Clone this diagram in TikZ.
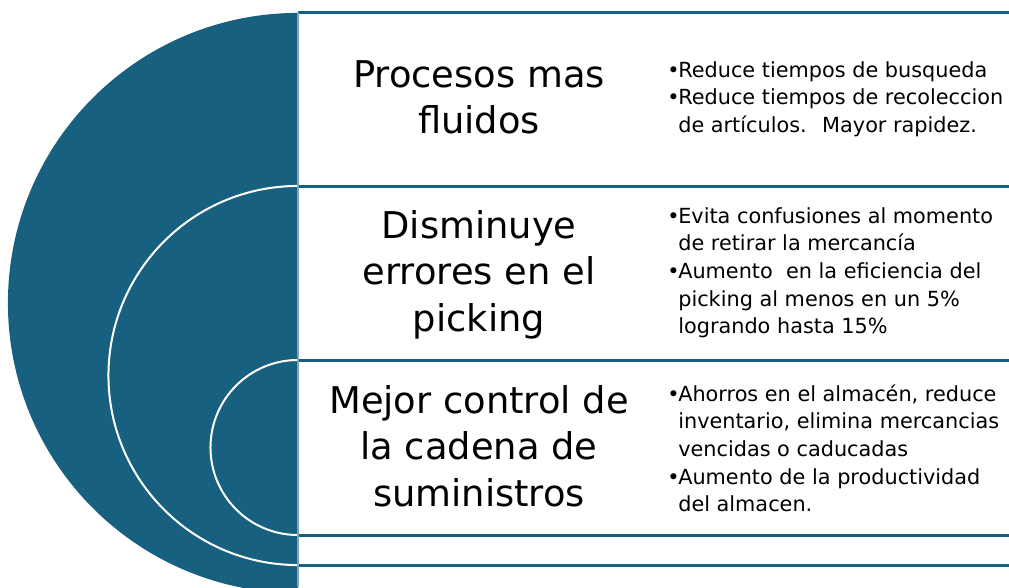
\documentclass[tikz,border=0pt]{standalone}
\usepackage{fontspec}
\setmainfont{DejaVu Sans}
\definecolor{petrol}{RGB}{23,96,127}
\definecolor{petrolline}{RGB}{126,164,184}
\newcommand{\bulletmark}{\makebox[0.275cm][l]{•}}
\begin{document}
\begin{tikzpicture}[x=0.025cm, y=-0.025cm,
  head/.style={anchor=base, inner sep=0pt, font=\fontsize{26.2}{33.1}\selectfont},
  pts/.style={anchor=base west, inner sep=0pt, font=\fontsize{14.8}{19.7}\selectfont},
  rowline/.style={petrol, line width=0.075cm},
  ring/.style={white, line width=0.05cm}]
\useasboundingbox (0,0) rectangle (1009,587);
% half disc with the rings
\begin{scope}
  \clip (0,0) rectangle (298,587);
  \fill[petrol] (298,303) circle [radius=7.25cm];
  \draw[ring] (298,375.5) circle [radius=4.7375cm];
  \draw[ring] (298,447.5) circle [radius=2.1875cm];
\end{scope}
% rows
\foreach \y in {12,186,360,535,565}
  \draw[rowline] (298,\y) -- (1009,\y);
\draw[petrolline, line width=0.035cm] (298,12) -- (298,587);
% headings
\node[head] (fluid) at (479,87) {\begin{tabular}[t]{@{}c@{}}Procesos mas\\fluidos\end{tabular}};
\node[head] (errors) at (479,238) {\begin{tabular}[t]{@{}c@{}}Disminuye\\errores en el\\picking\end{tabular}};
\node[head] (control) at (479,413) {\begin{tabular}[t]{@{}c@{}}Mejor control de\\la cadena de\\suministros\end{tabular}};
% points
\node[pts] (fluidpts) at (667,77) {\begin{tabular}[t]{@{}l@{}l@{}}
  \bulletmark & Reduce tiempos de busqueda\\
  \bulletmark & Reduce tiempos de recoleccion\\
  & de artículos.~ Mayor rapidez.\end{tabular}};
\node[pts] (errorspts) at (667,223) {\begin{tabular}[t]{@{}l@{}l@{}}
  \bulletmark & Evita confusiones al momento\\
  & de retirar la mercancía\\
  \bulletmark & Aumento~ en la eficiencia del\\
  & picking al menos en un 5\%\\
  & logrando hasta 15\%\end{tabular}};
\node[pts] (controlpts) at (667,401) {\begin{tabular}[t]{@{}l@{}l@{}}
  \bulletmark & Ahorros en el almacén, reduce\\
  & inventario, elimina mercancias\\
  & vencidas o caducadas\\
  \bulletmark & Aumento de la productividad\\
  & del almacen.\end{tabular}};
\end{tikzpicture}
\end{document}
